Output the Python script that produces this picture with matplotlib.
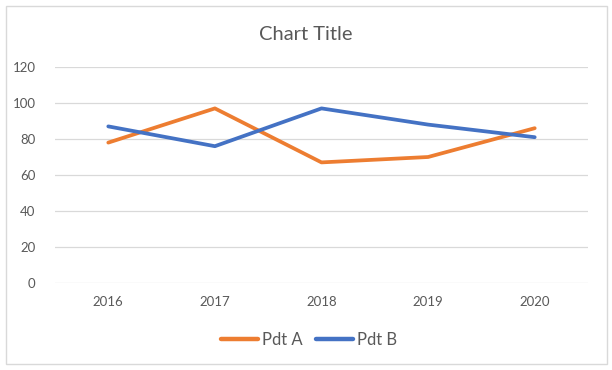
import matplotlib
matplotlib.use("Agg")
import matplotlib.pyplot as plt
from matplotlib.patches import Rectangle

years = ["2016", "2017", "2018", "2019", "2020"]
pdt_a = [78, 97, 67, 70, 86]
pdt_b = [87, 76, 97, 88, 81]
y_ticks = [0, 20, 40, 60, 80, 100, 120]

plt.rcParams['font.family'] = ['Lato', 'DejaVu Sans']
txt = '#595959'

fig = plt.figure(figsize=(6.12, 3.70), dpi=100)
ax = fig.add_axes([55/612, 1-283/370, (588-55)/612, (283-67)/370])

x = list(range(len(years)))
ax.plot(x, pdt_a, color='#ED7D31', lw=2.7, solid_capstyle='round', solid_joinstyle='round', label='Pdt A')
ax.plot(x, pdt_b, color='#4472C4', lw=2.7, solid_capstyle='round', solid_joinstyle='round', label='Pdt B')

ax.set_xlim(-0.5, len(years)-0.5)
ax.set_ylim(0, 120)
ax.set_yticks(y_ticks)
ax.set_xticks(x)
ax.set_xticklabels(years)
ax.grid(axis='y', color='#D9D9D9', lw=0.9)
ax.set_axisbelow(True)
for s in ax.spines.values():
    s.set_visible(False)
ax.tick_params(length=0, colors=txt, labelsize=9.5)
ax.tick_params(axis='y', pad=14)
ax.tick_params(axis='x', pad=9)

fig.text(306/612, 1-34/370, 'Chart Title', ha='center', va='center', fontsize=14.5, color=txt)

leg = fig.legend(loc='center', bbox_to_anchor=(309/612, 1-340/370), ncol=2, frameon=False,
                 fontsize=12, handlelength=2.2, handletextpad=0.25, columnspacing=0.8)
for t in leg.get_texts():
    t.set_color(txt)
for h in leg.get_lines():
    h.set_linewidth(3.2)
    h.set_solid_capstyle('round')

fig.patches.append(Rectangle((6/612, 6/370), (607-6)/612, (364-6)/370, transform=fig.transFigure,
                             fill=False, edgecolor='#D9D9D9', lw=1.0))

fig.savefig('out.png', dpi=100)
